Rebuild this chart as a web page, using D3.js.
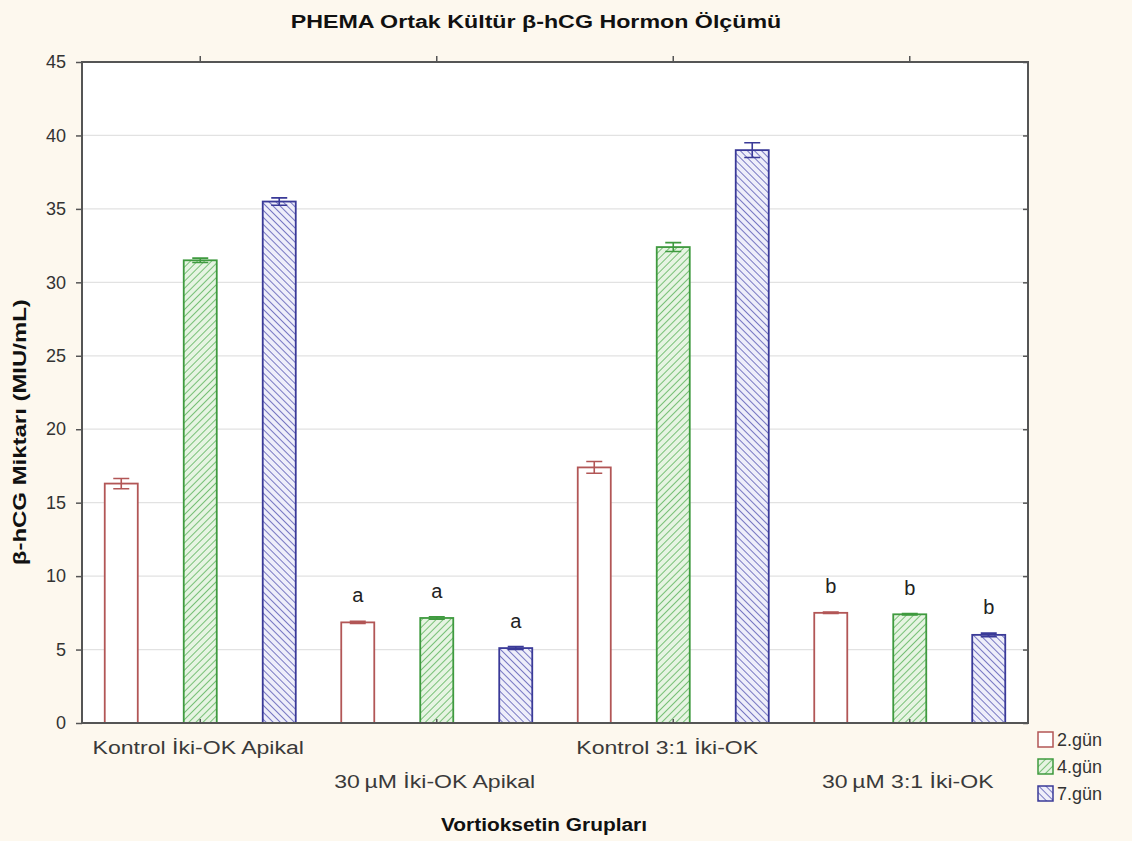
<!DOCTYPE html>
<html>
<head>
<meta charset="utf-8">
<script src="https://cdn.jsdelivr.net/npm/d3@7"></script>
<style>
  body { margin: 0; background: #fdf8ee; }
  text { font-family: "Liberation Sans", Arial, sans-serif; }
</style>
</head>
<body>
<div id="chart"></div>
<script>
// data
var groups = ["Kontrol  İki-OK Apikal", "30\u2009µM İki-OK Apikal", "Kontrol 3:1 İki-OK", "30\u2009µM 3:1 İki-OK"];
var series = ["2.gün", "4.gün", "7.gün"];
var means = [
  [16.3, 31.5, 35.5],
  [6.85, 7.15, 5.1],
  [17.4, 32.4, 39.0],
  [7.5, 7.4, 6.0]
];
var errors = [
  [0.35, 0.15, 0.25],
  [0.08, 0.08, 0.1],
  [0.4, 0.3, 0.5],
  [0.05, 0.05, 0.12]
];
var letters = [
  ["", "", ""],
  ["a", "a", "a"],
  ["", "", ""],
  ["b", "b", "b"]
];
var yTicks = [0, 5, 10, 15, 20, 25, 30, 35, 40, 45];

var W = 1132, H = 841;
var margin = {top: 62, right: 104, bottom: 118, left: 82},
    width = W - margin.left - margin.right,
    height = H - margin.top - margin.bottom;

var svg = d3.select("#chart")
  .append("svg")
    .attr("width", W)
    .attr("height", H);

// the original text is set wider than the installed fonts
function widen(sel, k) {
  sel.each(function() {
    var len = this.getComputedTextLength();
    d3.select(this).attr("textLength", len * k).attr("lengthAdjust", "spacingAndGlyphs");
  });
}

// patterns for the hatched bars
var defs = svg.append("defs");
function hatch(id, bg, line, dir) {
  var p = defs.append("pattern")
    .attr("id", id)
    .attr("patternUnits", "userSpaceOnUse")
    .attr("width", 5).attr("height", 5)
    .attr("patternTransform", "rotate(" + dir + ")");
  p.append("rect").attr("width", 5).attr("height", 5).attr("fill", bg);
  p.append("line").attr("x1", 0).attr("y1", 0).attr("x2", 0).attr("y2", 5)
    .attr("stroke", line).attr("stroke-width", 1.6);
}
hatch("hatchGreen", "#e6f4e2", "#5cb35c", 45);
hatch("hatchBlue", "#eeeefa", "#5a5ab4", -45);

var fills = ["#ffffff", "url(#hatchGreen)", "url(#hatchBlue)"];
var strokes = ["#b25656", "#3f9a3f", "#3a3a98"];

var g = svg.append("g")
  .attr("transform", "translate(" + margin.left + "," + margin.top + ")");

g.append("rect")
  .attr("width", width).attr("height", height)
  .attr("fill", "#ffffff");

var x0 = d3.scaleBand().domain(d3.range(groups.length)).range([0, width]);
var x1 = d3.scaleBand().domain(d3.range(series.length))
  .range([0, x0.bandwidth()])
  .paddingInner(0.582).paddingOuter(0.288);
var y = d3.scaleLinear().domain([0, 45]).range([height, 0]);

// grid
g.append("g").selectAll("line")
  .data(yTicks.slice(1, -1))
  .enter().append("line")
    .attr("x1", 0).attr("x2", width)
    .attr("y1", function(d) { return y(d); })
    .attr("y2", function(d) { return y(d); })
    .attr("stroke", "#e2e2e2").attr("stroke-width", 1.2);

// bars
var flat = [];
means.forEach(function(row, gi) {
  row.forEach(function(v, si) {
    flat.push({g: gi, s: si, v: v, e: errors[gi][si], l: letters[gi][si]});
  });
});

var bars = g.append("g").selectAll("g")
  .data(flat)
  .enter().append("g")
    .attr("transform", function(d) { return "translate(" + (x0(d.g) + x1(d.s)) + ",0)"; });

bars.append("rect")
  .attr("x", 0)
  .attr("width", x1.bandwidth())
  .attr("y", function(d) { return y(d.v); })
  .attr("height", function(d) { return height - y(d.v); })
  .attr("fill", function(d) { return fills[d.s]; })
  .attr("stroke", function(d) { return strokes[d.s]; })
  .attr("stroke-width", 1.8);

// error bars
var cx = x1.bandwidth() / 2, cap = 8;
bars.append("path")
  .attr("d", function(d) {
    var t = y(d.v + d.e), b = y(d.v - d.e);
    return "M" + (cx - cap) + "," + t + "H" + (cx + cap) +
           "M" + cx + "," + t + "V" + b +
           "M" + (cx - cap) + "," + b + "H" + (cx + cap);
  })
  .attr("fill", "none")
  .attr("stroke", function(d) { return strokes[d.s]; })
  .attr("stroke-width", 1.6);

bars.append("text")
  .attr("x", cx)
  .attr("y", function(d) { return y(d.v + d.e) - 19; })
  .attr("text-anchor", "middle")
  .attr("font-size", 20)
  .attr("fill", "#222")
  .text(function(d) { return d.l; });

// axes
var axisColor = "#555";
var centers = d3.range(groups.length);
var axLeft = g.append("g").call(d3.axisLeft(y).tickValues(yTicks).tickSize(6).tickPadding(10));
var axRight = g.append("g").attr("transform", "translate(" + width + ",0)")
  .call(d3.axisLeft(y).tickValues(yTicks).tickSize(5).tickFormat(""));
var axTop = g.append("g")
  .call(d3.axisTop(x0).tickValues(centers).tickSize(6).tickFormat(""));
var axBottom = g.append("g").attr("transform", "translate(0," + height + ")")
  .call(d3.axisTop(x0).tickValues(centers).tickSize(4).tickFormat(""));

[axLeft, axRight, axTop, axBottom].forEach(function(a) {
  a.select(".domain").remove();
  a.selectAll("line").attr("stroke", axisColor).attr("stroke-width", 1.5);
});
axLeft.selectAll("text")
  .attr("font-size", 18).attr("fill", "#333")
  .style("font-family", "'Liberation Sans', Arial, sans-serif");

g.append("rect")
  .attr("width", width).attr("height", height)
  .attr("fill", "none").attr("stroke", axisColor).attr("stroke-width", 2);

// group labels, staggered on two rows
var groupLabels = g.append("g").selectAll("text")
  .data(groups)
  .enter().append("text")
    .attr("x", function(d, i) { return x0(i) + x0.bandwidth() / 2 + (i == 2 ? -6 : -2); })
    .attr("y", function(d, i) { return height + (i % 2 ? 65 : 31); })
    .attr("text-anchor", "middle")
    .attr("font-size", 18)
    .attr("fill", "#3a3a3a")
    .text(function(d) { return d; });
widen(groupLabels, 1.28);

// titles
var title = svg.append("text")
  .attr("x", 536).attr("y", 28)
  .attr("text-anchor", "middle")
  .attr("font-size", 18).attr("font-weight", "bold")
  .attr("fill", "#111")
  .text("PHEMA Ortak Kültür β-hCG Hormon Ölçümü");
widen(title, 1.29);

var yTitle = svg.append("text")
  .attr("transform", "translate(26," + (margin.top + y(19.8)) + ") rotate(-90)")
  .attr("text-anchor", "middle")
  .attr("font-size", 18).attr("font-weight", "bold")
  .attr("fill", "#111")
  .text("β-hCG Miktarı (MIU/mL)");
widen(yTitle, 1.33);

var xTitle = svg.append("text")
  .attr("x", 544).attr("y", 831)
  .attr("text-anchor", "middle")
  .attr("font-size", 18).attr("font-weight", "bold")
  .attr("fill", "#111")
  .text("Vortioksetin Grupları");
widen(xTitle, 1.16);

// legend
var legend = svg.append("g").selectAll("g")
  .data(series)
  .enter().append("g")
    .attr("transform", function(d, i) { return "translate(1038," + (732 + i * 27) + ")"; });
legend.append("rect")
  .attr("width", 15).attr("height", 15)
  .attr("fill", function(d, i) { return fills[i]; })
  .attr("stroke", function(d, i) { return strokes[i]; })
  .attr("stroke-width", 1.5);
legend.append("text")
  .attr("x", 19).attr("y", 14)
  .attr("font-size", 18).attr("fill", "#333")
  .text(function(d) { return d; });
</script>
</body>
</html>
